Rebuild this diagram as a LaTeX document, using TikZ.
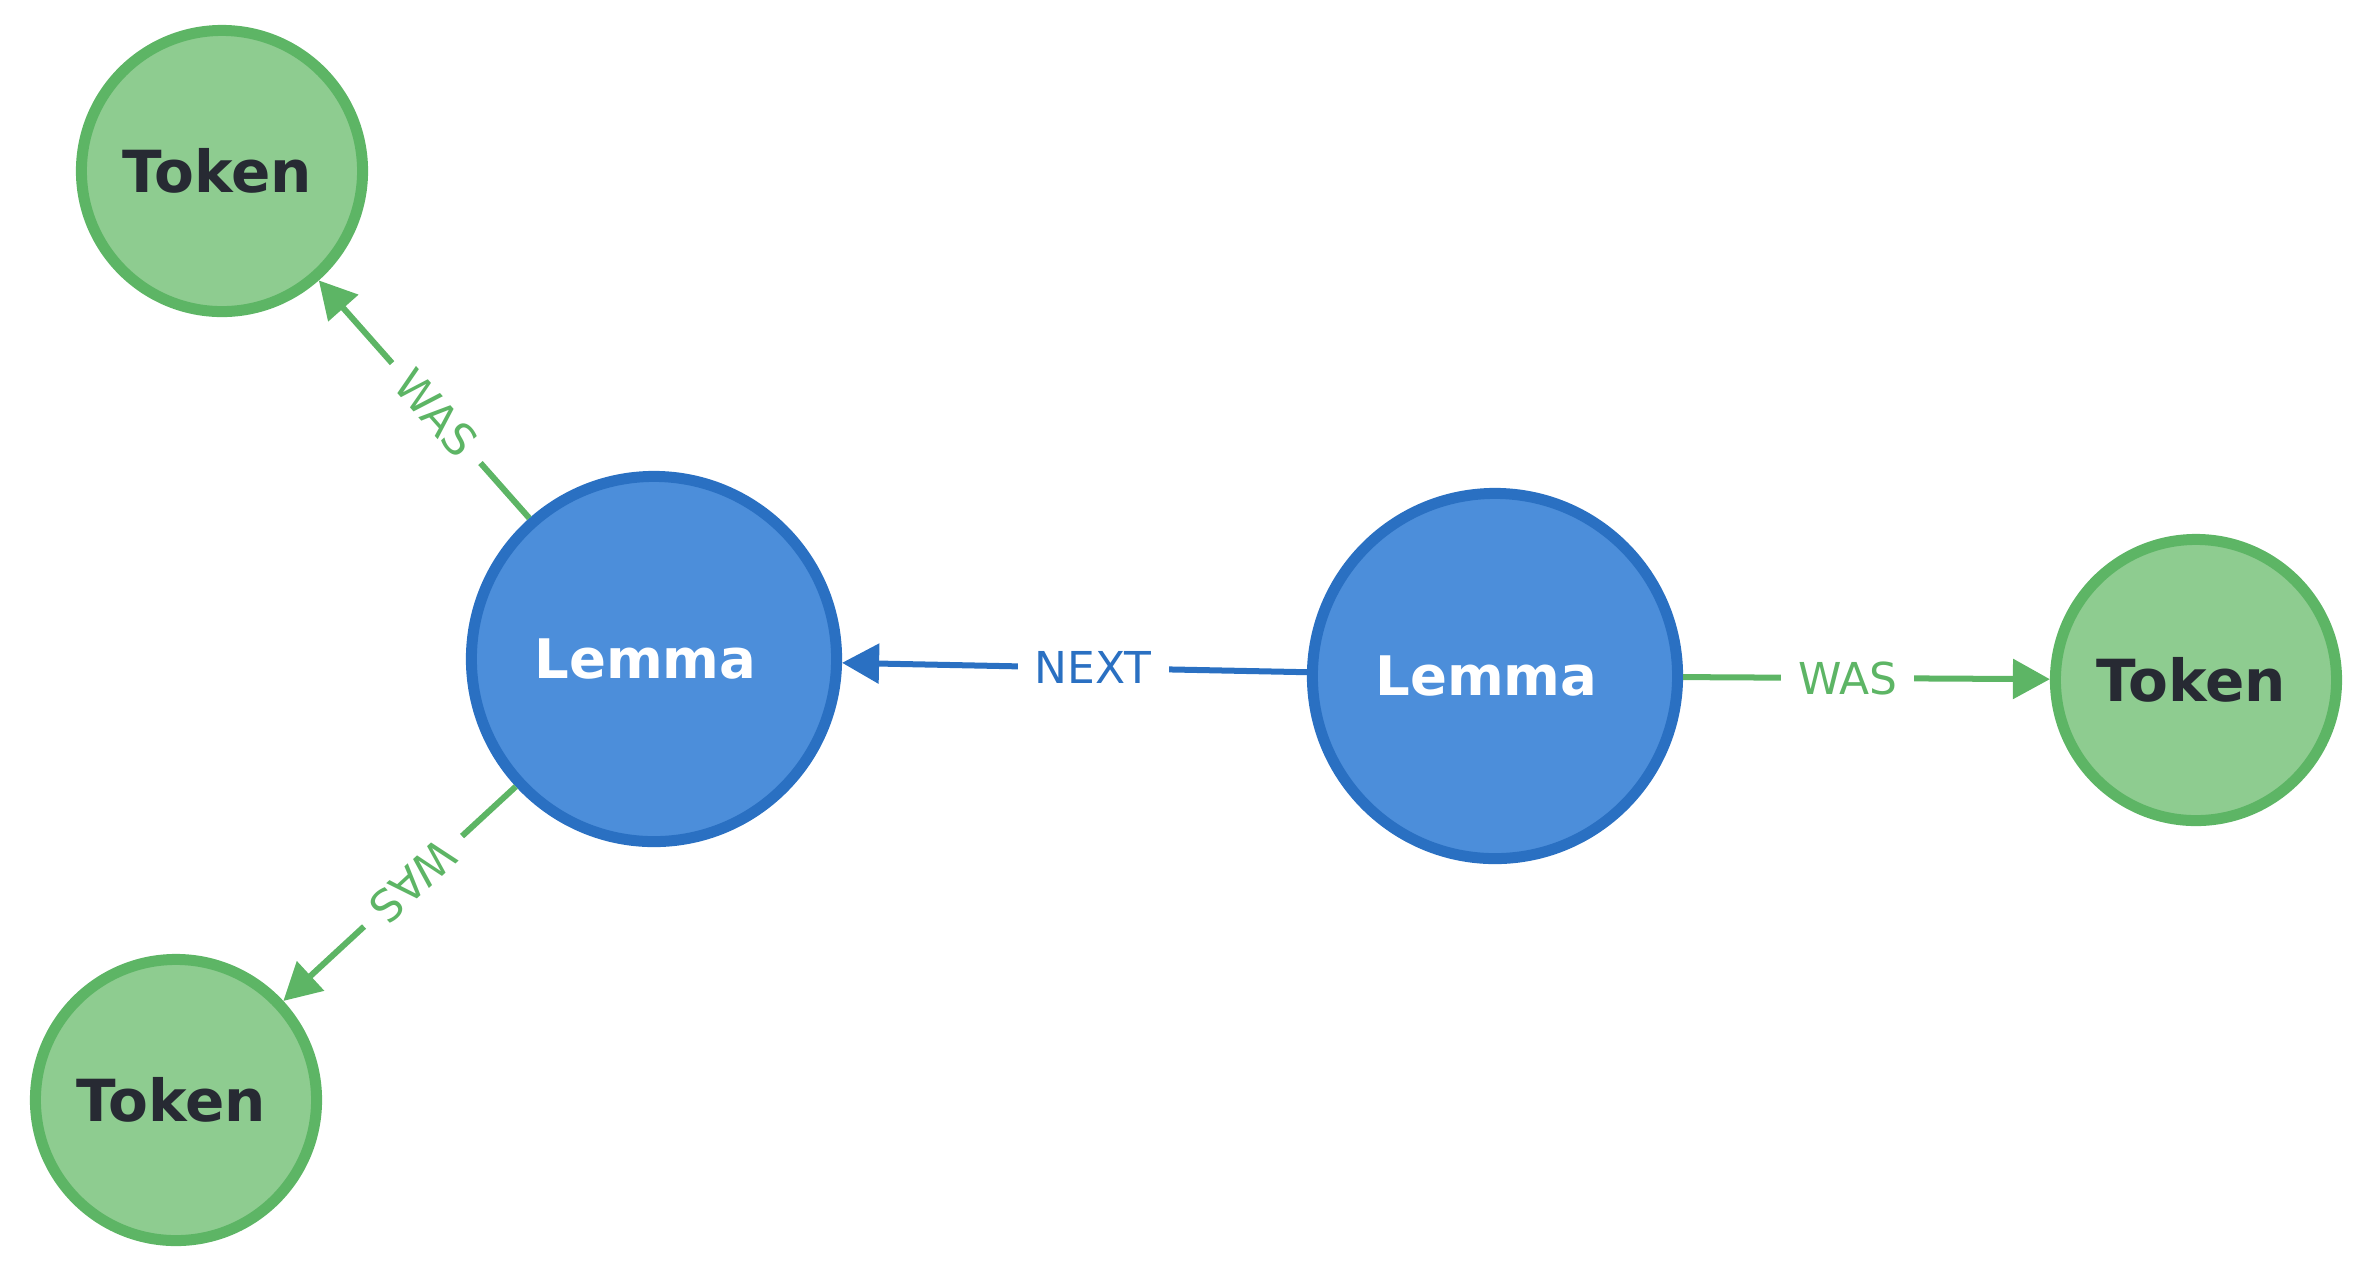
\documentclass[tikz,border=0pt]{standalone}
\usepackage{fontspec}
\setmainfont{DejaVu Sans}
\usetikzlibrary{arrows.meta}
\definecolor{tokfill}{HTML}{8ECC90}
\definecolor{tokline}{HTML}{5DB565}
\definecolor{lemfill}{HTML}{4C8EDA}
\definecolor{lemline}{HTML}{2A70C2}
\definecolor{tokink}{HTML}{272A33}
\tikzset{
  token/.style={circle, draw=tokline, fill=tokfill, line width=0.11cm,
    minimum size=2.81cm, inner sep=0pt, text=tokink,
    font=\fontsize{16.5}{19}\selectfont\bfseries,
    execute at end node={\hspace{0.1cm}}},
  lemma/.style={circle, draw=lemline, fill=lemfill, line width=0.11cm,
    minimum size=3.65cm, inner sep=0pt, text=white,
    font=\fontsize{15.5}{18}\selectfont\bfseries,
    execute at end node={\hspace{0.17cm}}},
  rel/.style={line width=0.06cm, -{Triangle[length=0.37cm,width=0.39cm]}},
  rellabel/.style={fill=white, inner xsep=0.17cm, inner ysep=1pt,
    font=\fontsize{12.5}{15}\selectfont}
}
\begin{document}
\begin{tikzpicture}[x=0.01cm, y=-0.01cm]
            \useasboundingbox (0,0) rectangle (2374,1262);
            \node [token] (tokenA) at (222,171) {Token};
            \node [lemma] (lemmaA) at (654,659) {Lemma};
            \node [lemma] (lemmaB) at (1495,676) {Lemma};
            \node [token] (tokenB) at (2196,680) {Token};
            \node [token] (tokenC) at (176,1100) {Token};
            \draw [rel, lemline] (lemmaB) to node [pos=0.46, rellabel, text=lemline] {NEXT} (lemmaA);
            \draw [rel, tokline] (lemmaA) to node [pos=0.442, sloped, rellabel, text=tokline] {WAS} (tokenA);
            \draw [rel, tokline] (lemmaA) to node [pos=0.442, sloped, allow upside down, rellabel, text=tokline] {WAS} (tokenC);
            \draw [rel, tokline] (lemmaB) to node [pos=0.449, rellabel, text=tokline] {WAS} (tokenB);
        \end{tikzpicture}
\end{document}
